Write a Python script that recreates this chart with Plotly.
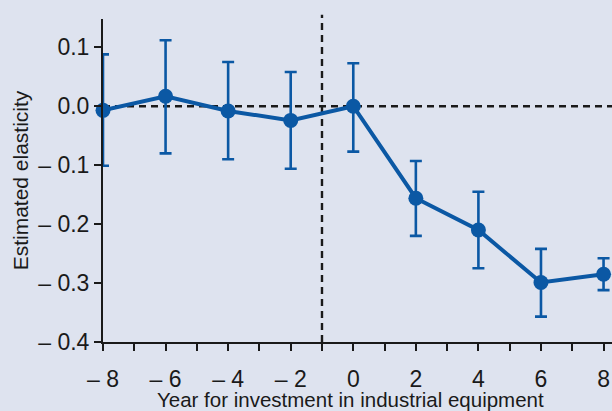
import plotly.graph_objects as go

years = [-8, -6, -4, -2, 0, 2, 4, 6, 8]
elasticity = [-0.007, 0.017, -0.008, -0.024, 0.000, -0.156, -0.210, -0.299, -0.285]
upper = [0.088, 0.112, 0.075, 0.058, 0.073, -0.093, -0.145, -0.242, -0.258]
lower = [-0.101, -0.080, -0.090, -0.106, -0.077, -0.220, -0.275, -0.357, -0.312]

x_tickvals = [-8, -6, -4, -2, 0, 2, 4, 6, 8]
x_ticktext = ["\u2013 8", "\u2013 6", "\u2013 4", "\u2013 2", "0", "2", "4", "6", "8"]
y_tickvals = [0.1, 0.0, -0.1, -0.2, -0.3, -0.4]
y_ticktext = ["0.1", "0.0", "\u2013 0.1", "\u2013 0.2", "\u2013 0.3", "\u2013 0.4"]
x_title = "Year for investment in industrial equipment"
y_title = "Estimated elasticity"

event_year = -1
baseline = 0

BLUE = "#0b58a4"
BG = "#dee3ef"
INK = "#1a1a1a"
FONT = "Liberation Sans, Arial, sans-serif"

err_plus = [u - v for u, v in zip(upper, elasticity)]
err_minus = [v - l for v, l in zip(elasticity, lower)]

fig = go.Figure()
fig.add_trace(go.Scatter(
    x=years, y=elasticity, mode="lines+markers",
    line=dict(color=BLUE, width=4),
    marker=dict(color=BLUE, size=15),
    error_y=dict(type="data", symmetric=False, array=err_plus, arrayminus=err_minus,
                 color=BLUE, thickness=2.6, width=6),
    cliponaxis=False, showlegend=False,
))

fig.add_shape(type="line", xref="x", yref="y", x0=-8, x1=8.3, y0=baseline, y1=baseline,
              line=dict(color=INK, width=2.4, dash="7px,5px"), layer="below")
fig.add_shape(type="line", xref="x", yref="paper", x0=event_year, x1=event_year, y0=0, y1=1.013,
              line=dict(color=INK, width=2.4, dash="7px,5px"), layer="below")

# x-axis title, sitting at the bottom edge as in the reference
fig.add_annotation(text=x_title, xref="paper", yref="paper", x=0.487, y=-0.179,
                   xanchor="center", yanchor="middle", showarrow=False,
                   font=dict(size=20.5, family=FONT, color=INK))

fig.update_layout(
    width=612, height=411,
    paper_bgcolor=BG, plot_bgcolor=BG,
    margin=dict(l=103, r=0, t=19, b=69, autoexpand=False),
    font=dict(family=FONT, color=INK, size=23),
    xaxis=dict(
        range=[-8, 8.27], showline=True, linecolor=INK, linewidth=2,
        showgrid=False, zeroline=False, automargin=False,
        ticks="outside", ticklen=7, tickwidth=2, tickcolor=INK,
        tickvals=x_tickvals, ticktext=x_ticktext,
        tickfont=dict(size=23, family=FONT, color=INK),
        minor=dict(dtick=1, tick0=0, ticks="outside", ticklen=7, tickwidth=2, tickcolor=INK),
        ticklabelstandoff=8,
    ),
    yaxis=dict(
        range=[-0.4, 0.148], showline=True, linecolor=INK, linewidth=2,
        showgrid=False, zeroline=False, automargin=False,
        ticks="outside", ticklen=7, tickwidth=2, tickcolor=INK,
        tickvals=y_tickvals, ticktext=y_ticktext,
        tickfont=dict(size=23, family=FONT, color=INK),
        title=dict(text=y_title, font=dict(size=21, family=FONT, color=INK), standoff=4),
    ),
)

fig.write_html("out.html", config={"displayModeBar": False},
               post_script="document.body.style.margin='0';document.body.style.padding='0';")
